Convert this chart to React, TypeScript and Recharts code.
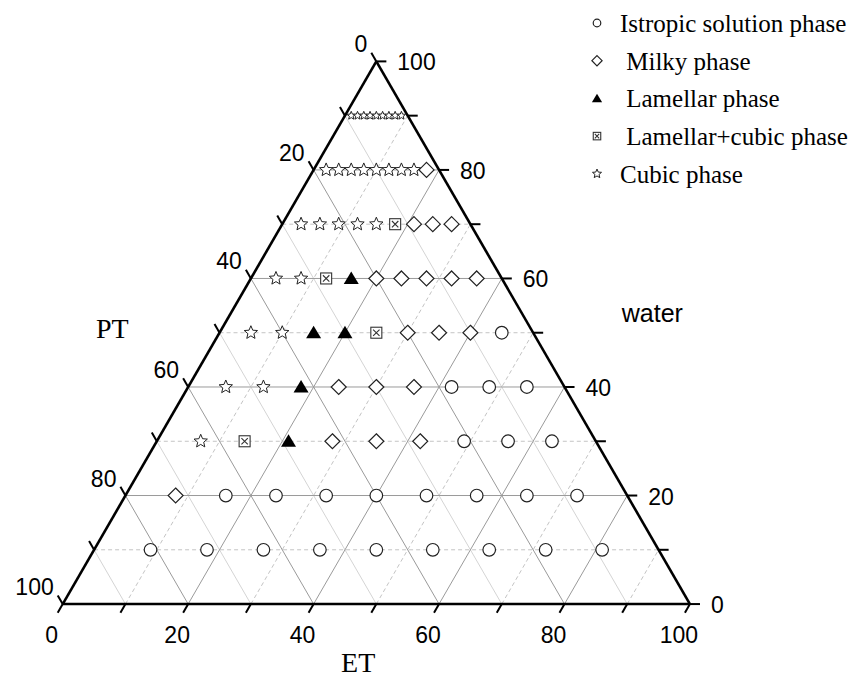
import { ScatterChart, Scatter, XAxis, YAxis, ReferenceLine } from "recharts";

const SIN60 = Math.sqrt(3) / 2;

// compositions as [water, ET] in wt%; PT makes up the rest
const isotropic = [
  [50, 45],
  [40, 42], [40, 48], [40, 54],
  [30, 49], [30, 56], [30, 63],
  [20, 16], [20, 24], [20, 32], [20, 40], [20, 48], [20, 56], [20, 64], [20, 72],
  [10, 9], [10, 18], [10, 27], [10, 36], [10, 45], [10, 54], [10, 63], [10, 72], [10, 81],
];
const milky = [
  [80, 18],
  [70, 21], [70, 24], [70, 27],
  [60, 20], [60, 24], [60, 28], [60, 32], [60, 36],
  [50, 30], [50, 35], [50, 40],
  [40, 24], [40, 30], [40, 36],
  [30, 28], [30, 35], [30, 42],
  [20, 8],
];
const lamellar = [[60, 16], [50, 15], [50, 20], [40, 18], [30, 21]];
const lamellarCubic = [[70, 18], [60, 12], [50, 25], [30, 14]];
const cubic = [
  [80, 2], [80, 4], [80, 6], [80, 8], [80, 10], [80, 12], [80, 14], [80, 16],
  [70, 3], [70, 6], [70, 9], [70, 12], [70, 15],
  [60, 4], [60, 8],
  [50, 5], [50, 10],
  [40, 6], [40, 12],
  [30, 7],
];
// the 90% water row is sampled finely, drawn with smaller stars
const cubicTopRow = [[90, 1], [90, 2], [90, 3], [90, 4], [90, 5], [90, 6], [90, 7], [90, 8], [90, 9]];

const gridMajor = [20, 40, 60, 80];
const gridMinor = [10, 30, 50, 70, 90];
const axisTicks = [0, 10, 20, 30, 40, 50, 60, 70, 80, 90, 100];
const axisLabels = [0, 20, 40, 60, 80, 100];

const legendItems = [
  { kind: "circle", text: "Istropic solution phase" },
  { kind: "diamond", text: " Milky phase" },
  { kind: "triangle", text: " Lamellar phase" },
  { kind: "box", text: " Lamellar+cubic phase" },
  { kind: "star", text: "Cubic phase" },
];

const TICK = 1.6;
const SANS = "'Liberation Sans', Arial, sans-serif";
const SERIF = "'Liberation Serif', 'Times New Roman', serif";

const toXY = ([w, et]: number[]) => ({ x: et + w / 2, y: w * SIN60 });

type Seg = [{ x: number; y: number }, { x: number; y: number }];

// lines of constant water, ET and PT
const waterLine = (v: number): Seg => [
  { x: v / 2, y: v * SIN60 },
  { x: 100 - v / 2, y: v * SIN60 },
];
const etLine = (e: number): Seg => [
  { x: e, y: 0 },
  { x: e + (100 - e) / 2, y: (100 - e) * SIN60 },
];
const ptLine = (p: number): Seg => [
  { x: 100 - p, y: 0 },
  { x: (100 - p) / 2, y: (100 - p) * SIN60 },
];

function starPath(cx: number, cy: number, r: number) {
  const pts: string[] = [];
  for (let i = 0; i < 10; i++) {
    const a = ((-90 + i * 36) * Math.PI) / 180;
    const rr = i % 2 === 0 ? r : r * 0.45;
    pts.push(`${(cx + rr * Math.cos(a)).toFixed(2)},${(cy + rr * Math.sin(a)).toFixed(2)}`);
  }
  return `M${pts.join("L")}Z`;
}

function Marker({ kind, cx, cy, s = 1 }: { kind: string; cx: number; cy: number; s?: number }) {
  const stroke = "#222";
  if (kind === "circle")
    return <circle cx={cx} cy={cy} r={6.3 * s} fill="#fff" stroke={stroke} strokeWidth={1.2} />;
  if (kind === "diamond") {
    const d = 7.5 * s;
    return (
      <path
        d={`M${cx},${cy - d}L${cx + d},${cy}L${cx},${cy + d}L${cx - d},${cy}Z`}
        fill="#fff"
        stroke={stroke}
        strokeWidth={1.2}
      />
    );
  }
  if (kind === "triangle")
    return (
      <path
        d={`M${cx},${cy - 7 * s}L${cx + 7.5 * s},${cy + 5.5 * s}L${cx - 7.5 * s},${cy + 5.5 * s}Z`}
        fill="#000"
      />
    );
  if (kind === "box") {
    const h = 5.5 * s;
    const i = 3.2 * s;
    return (
      <g stroke="#333" strokeWidth={1.1} fill="#fff">
        <rect x={cx - h} y={cy - h} width={2 * h} height={2 * h} />
        <path d={`M${cx - i},${cy - i}L${cx + i},${cy + i}M${cx + i},${cy - i}L${cx - i},${cy + i}`} />
      </g>
    );
  }
  return <path d={starPath(cx, cy, 7 * s)} fill="#fff" stroke={stroke} strokeWidth={1} />;
}

// tick label and title positions, placed through the chart scales
const labelData = [
  ...axisLabels.map((v) => ({ x: v, y: 0, text: String(v), anchor: "middle", dx: -11, dy: 39, size: 23, font: SANS })),
  ...axisLabels.map((v) => ({
    x: 100 - v / 2,
    y: v * SIN60,
    text: String(v),
    anchor: "start",
    dx: 21,
    dy: 9,
    size: 23,
    font: SANS,
  })),
  ...axisLabels.map((v) => ({
    x: (100 - v) / 2,
    y: (100 - v) * SIN60,
    text: String(v),
    anchor: "end",
    dx: -9,
    dy: -9,
    size: 23,
    font: SANS,
  })),
  { x: 7.9, y: 42.5, text: "PT", anchor: "middle", dx: 0, dy: 0, size: 28, font: SERIF },
  { x: 94, y: 45, text: "water", anchor: "middle", dx: 0, dy: 0, size: 25, font: SANS },
  { x: 47.1, y: -10.9, text: "ET", anchor: "middle", dx: 0, dy: 0, size: 28, font: SERIF },
];

const series = [
  { name: "Istropic solution phase", kind: "circle", data: isotropic, s: 1 },
  { name: "Milky phase", kind: "diamond", data: milky, s: 1 },
  { name: "Lamellar phase", kind: "triangle", data: lamellar, s: 1 },
  { name: "Lamellar+cubic phase", kind: "box", data: lamellarCubic, s: 1 },
  { name: "Cubic phase", kind: "star", data: cubic, s: 1 },
  { name: "Cubic phase (90%)", kind: "star", data: cubicTopRow, s: 0.62 },
];

function Legend() {
  return (
    <svg width={848} height={678} style={{ position: "absolute", left: 0, top: 0, pointerEvents: "none" }}>
      {legendItems.map((it, i) => {
        const base = 32 + i * 37.7;
        return (
          <g key={it.kind}>
            <Marker kind={it.kind} cx={597} cy={base - 9} s={it.kind === "circle" ? 0.6 : 0.68} />
            <text
              x={620}
              y={base}
              fontFamily={SERIF}
              fontSize={25}
              fill="#000"
              style={{ whiteSpace: "pre" }}
            >
              {it.text}
            </text>
          </g>
        );
      })}
    </svg>
  );
}

export default function App() {
  return (
    <div style={{ position: "absolute", left: 0, top: 0, width: 848, height: 678, background: "#fff" }}>
      <ScatterChart width={848} height={678} margin={{ top: 0, right: 0, bottom: 0, left: 0 }}>
        <XAxis type="number" dataKey="x" domain={[-10, 125.2]} hide />
        <YAxis type="number" dataKey="y" domain={[-11.8, 96.4]} hide />

        {/* minor grid */}
        {gridMinor.map((v) => (
          <ReferenceLine key={`wm${v}`} segment={waterLine(v)} stroke="#c4c4c4" strokeDasharray="4 3" ifOverflow="visible" />
        ))}
        {gridMinor.map((v) => (
          <ReferenceLine key={`em${v}`} segment={etLine(v)} stroke="#c4c4c4" strokeDasharray="4 3" ifOverflow="visible" />
        ))}
        {gridMinor.map((v) => (
          <ReferenceLine key={`pm${v}`} segment={ptLine(v)} stroke="#d4d4d4" ifOverflow="visible" />
        ))}

        {/* major grid */}
        {gridMajor.map((v) => (
          <ReferenceLine key={`wM${v}`} segment={waterLine(v)} stroke="#9a9a9a" ifOverflow="visible" />
        ))}
        {gridMajor.map((v) => (
          <ReferenceLine key={`eM${v}`} segment={etLine(v)} stroke="#9a9a9a" ifOverflow="visible" />
        ))}
        {gridMajor.map((v) => (
          <ReferenceLine key={`pM${v}`} segment={ptLine(v)} stroke="#9a9a9a" ifOverflow="visible" />
        ))}

        {/* triangle frame */}
        <ReferenceLine segment={waterLine(0)} stroke="#000" strokeWidth={2.6} ifOverflow="visible" />
        <ReferenceLine segment={etLine(0)} stroke="#000" strokeWidth={2.6} ifOverflow="visible" />
        <ReferenceLine segment={ptLine(0)} stroke="#000" strokeWidth={2.6} ifOverflow="visible" />

        {/* tick marks */}
        {axisTicks.map((e) => (
          <ReferenceLine
            key={`te${e}`}
            segment={[{ x: e, y: 0 }, { x: e - TICK / 2, y: -TICK * SIN60 }]}
            stroke="#000"
            strokeWidth={2}
            ifOverflow="visible"
          />
        ))}
        {axisTicks.map((w) => (
          <ReferenceLine
            key={`tw${w}`}
            segment={[{ x: 100 - w / 2, y: w * SIN60 }, { x: 100 - w / 2 + TICK, y: w * SIN60 }]}
            stroke="#000"
            strokeWidth={2}
            ifOverflow="visible"
          />
        ))}
        {axisTicks.map((p) => (
          <ReferenceLine
            key={`tp${p}`}
            segment={[
              { x: (100 - p) / 2, y: (100 - p) * SIN60 },
              { x: (100 - p) / 2 - TICK / 2, y: (100 - p + TICK) * SIN60 },
            ]}
            stroke="#000"
            strokeWidth={2}
            ifOverflow="visible"
          />
        ))}

        {series.map((sr) => (
          <Scatter
            key={sr.name}
            name={sr.name}
            data={sr.data.map(toXY)}
            isAnimationActive={false}
            shape={(p: any) => <Marker kind={sr.kind} cx={p.cx} cy={p.cy} s={sr.s} />}
          />
        ))}

        <Scatter
          name="labels"
          data={labelData}
          isAnimationActive={false}
          legendType="none"
          shape={(p: any) => (
            <text
              x={p.cx + p.payload.dx}
              y={p.cy + p.payload.dy}
              textAnchor={p.payload.anchor}
              fontFamily={p.payload.font}
              fontSize={p.payload.size}
              fill="#000"
            >
              {p.payload.text}
            </text>
          )}
        />
      </ScatterChart>
      <Legend />
    </div>
  );
}
